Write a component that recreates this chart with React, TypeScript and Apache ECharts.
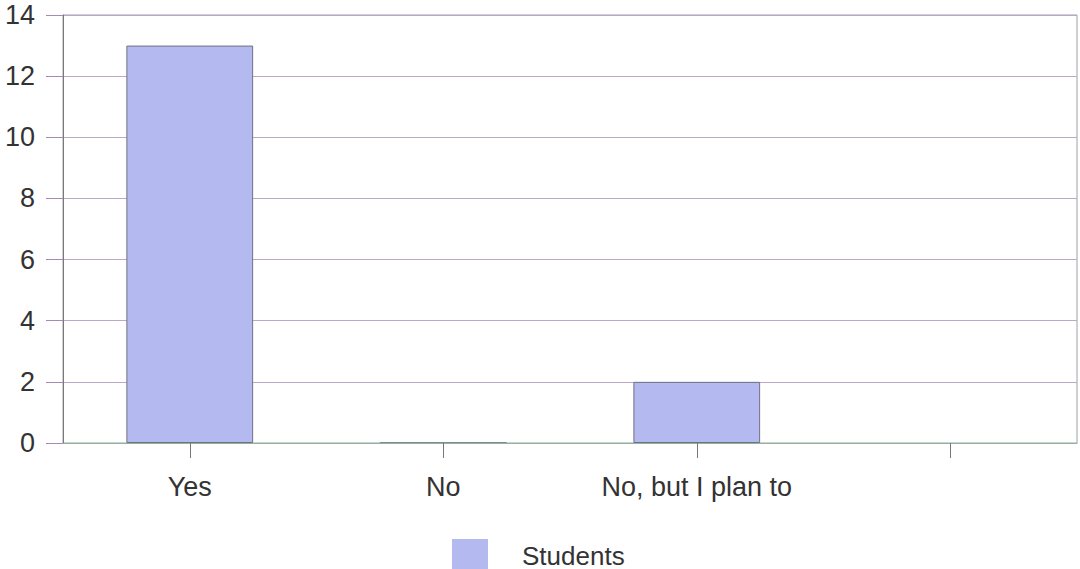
import React, { useEffect, useRef } from "react";
import * as echarts from "echarts";

const categories = ["Yes", "No", "No, but I plan to", ""];
const studentValues = [13, 0, 2, null];
const yTicks = { min: 0, max: 14, interval: 2 };

export default function App() {
  const ref = useRef<HTMLDivElement>(null);
  useEffect(() => {
    if (!ref.current) return;
    const chart = echarts.init(ref.current, undefined, { renderer: "svg" });
    chart.setOption({
      animation: false,
      backgroundColor: "#ffffff",
      textStyle: { fontFamily: "Liberation Sans, Arial, sans-serif" },
      grid: { left: 63, right: 3, top: 15, bottom: 126, show: true, borderColor: "#a0a0a8", borderWidth: 1 },
      legend: {
        left: 447,
        top: 534,
        itemWidth: 36,
        itemHeight: 33,
        data: ["Students"],
        icon: "rect",
        itemStyle: { borderWidth: 0 },
        textStyle: {
          fontSize: 26,
          lineHeight: 28,
          color: "#333",
          padding: [0, 0, 0, 29],
          fontFamily: "Liberation Sans, Arial, sans-serif",
        },
      },
      xAxis: {
        type: "category",
        data: categories,
        z: 3,
        axisLine: { lineStyle: { color: "#8fb59a", width: 1 } },
        axisTick: { show: true, alignWithLabel: true, length: 15, lineStyle: { color: "#777", width: 1 } },
        axisLabel: { fontSize: 27, color: "#333", margin: 30, interval: 0 },
      },
      yAxis: {
        type: "value",
        min: yTicks.min,
        max: yTicks.max,
        interval: yTicks.interval,
        axisLine: { show: true, lineStyle: { color: "#7a7a7a" } },
        axisTick: { show: true, inside: false, length: 17, lineStyle: { color: "#a888b8", width: 1 } },
        axisLabel: { fontSize: 27, color: "#333", margin: 28 },
        splitLine: { lineStyle: { color: "#b9a8c8", width: 1 } },
      },
      series: [
        {
          name: "Students",
          type: "bar",
          data: studentValues,
          barWidth: "50%",
          itemStyle: { color: "#b4b9ef", borderColor: "#707080", borderWidth: 1 },
        },
      ],
    });
    return () => chart.dispose();
  }, []);
  return <div ref={ref} style={{ width: 1080, height: 569, position: "absolute", left: 0, top: 0 }} />;
}
